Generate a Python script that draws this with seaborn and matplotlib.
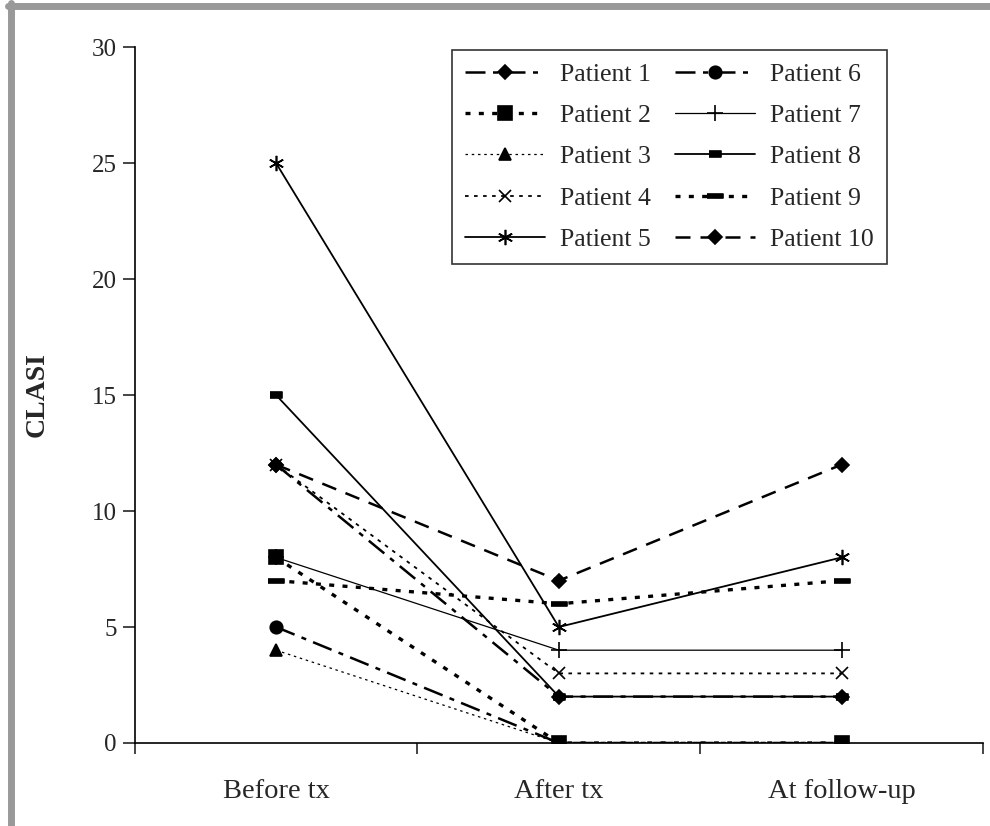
import pandas as pd
import matplotlib.pyplot as plt
import seaborn as sns
from matplotlib.lines import Line2D

stages = ['Before tx', 'After tx', 'At follow-up']
patients = ['Patient %d' % i for i in range(1, 11)]

p1 = [12, 2, 2]
p2 = [8, 0, 0]
p3 = [4, 0, 0]
p4 = [12, 3, 3]
p5 = [25, 5, 8]
p6 = [5, 0, 0]
p7 = [8, 4, 4]
p8 = [15, 2, 2]
p9 = [7, 6, 7]
p10 = [12, 7, 12]
values = [p1, p2, p3, p4, p5, p6, p7, p8, p9, p10]

# marker / line style per patient (Excel-like black & white)
rect_small = [(-1, -0.55), (1, -0.55), (1, 0.55), (-1, 0.55)]
rect_wide = [(-1.4, -0.45), (1.4, -0.45), (1.4, 0.45), (-1.4, 0.45)]
styles = [
    dict(marker='D', ms=7, ls=(0, (8, 3, 2, 3)), lw=1.8),
    dict(marker='s', ms=10, ls=(0, (1.5, 2.5)), lw=2.4),
    dict(marker='^', ms=9, ls=(0, (2, 3)), lw=0.9),
    dict(marker='x', ms=9, ls=(0, (2, 3)), lw=1.3),
    dict(marker=(6, 2, 0), ms=11, ls='-', lw=1.3),
    dict(marker='o', ms=9, ls=(0, (8, 3, 2, 3)), lw=1.8),
    dict(marker='+', ms=11, ls='-', lw=0.9),
    dict(marker=rect_small, ms=8, ls='-', lw=1.3),
    dict(marker=rect_wide, ms=11, ls=(0, (1.5, 2.5)), lw=2.4),
    dict(marker='D', ms=7, ls=(0, (6, 4)), lw=1.8),
]

sns.set_style('white')
plt.rcParams['font.family'] = ['Liberation Serif', 'DejaVu Serif']

fig = plt.figure(figsize=(9.9, 8.26), dpi=100)
ax = fig.add_axes([0.136, 0.1005, 0.857, 0.8425])

for name, vals, st in zip(patients, values, styles):
    df = pd.DataFrame({'stage': stages, 'CLASI': vals})
    sns.lineplot(data=df, x='stage', y='CLASI', ax=ax, sort=False, color='black',
                 marker=st['marker'], markersize=st['ms'], linestyle=st['ls'],
                 linewidth=st['lw'], markeredgecolor='black', markerfacecolor='black',
                 markeredgewidth=1.2, label=name)

ax.set_xlim(-0.5, 2.5)
ax.set_ylim(0, 30)
ax.set_yticks(range(0, 31, 5))
ax.set_xticks([-0.5, 0.5, 1.5, 2.5], minor=True)
ax.set_xticks(range(3))
ax.set_xticklabels(stages)
ax.tick_params(axis='x', which='major', length=0, labelsize=20.5, pad=26)
ax.tick_params(axis='x', which='minor', length=8, width=1.2, direction='out', bottom=True)
ax.tick_params(axis='y', length=9, width=1.2, direction='out', left=True, labelsize=18, pad=4)
ax.set_xlabel('')
ax.set_ylabel('CLASI', fontsize=20, fontweight='bold', labelpad=30)
for side in ['top', 'right']:
    ax.spines[side].set_visible(False)
for side in ['left', 'bottom']:
    ax.spines[side].set_color('black')
    ax.spines[side].set_linewidth(1.2)

handles, labels = ax.get_legend_handles_labels()
leg = ax.legend(handles, labels, ncol=2, loc='upper left',
                bbox_to_anchor=(452 / 990, 1 - 50 / 826), bbox_transform=fig.transFigure,
                frameon=True, fancybox=False, edgecolor='black', fontsize=18.5,
                handlelength=3.1, columnspacing=0.95, labelspacing=0.71,
                borderpad=0.5, handletextpad=0.6, borderaxespad=0)
leg.get_frame().set_linewidth(1.2)

# grey page border on top and left
fig.add_artist(Line2D([0.008, 1], [0.993, 0.993], transform=fig.transFigure,
                      color='#999999', lw=5))
fig.add_artist(Line2D([0.011, 0.011], [0, 0.996], transform=fig.transFigure,
                      color='#999999', lw=5))

fig.savefig('out.png', dpi=100)
